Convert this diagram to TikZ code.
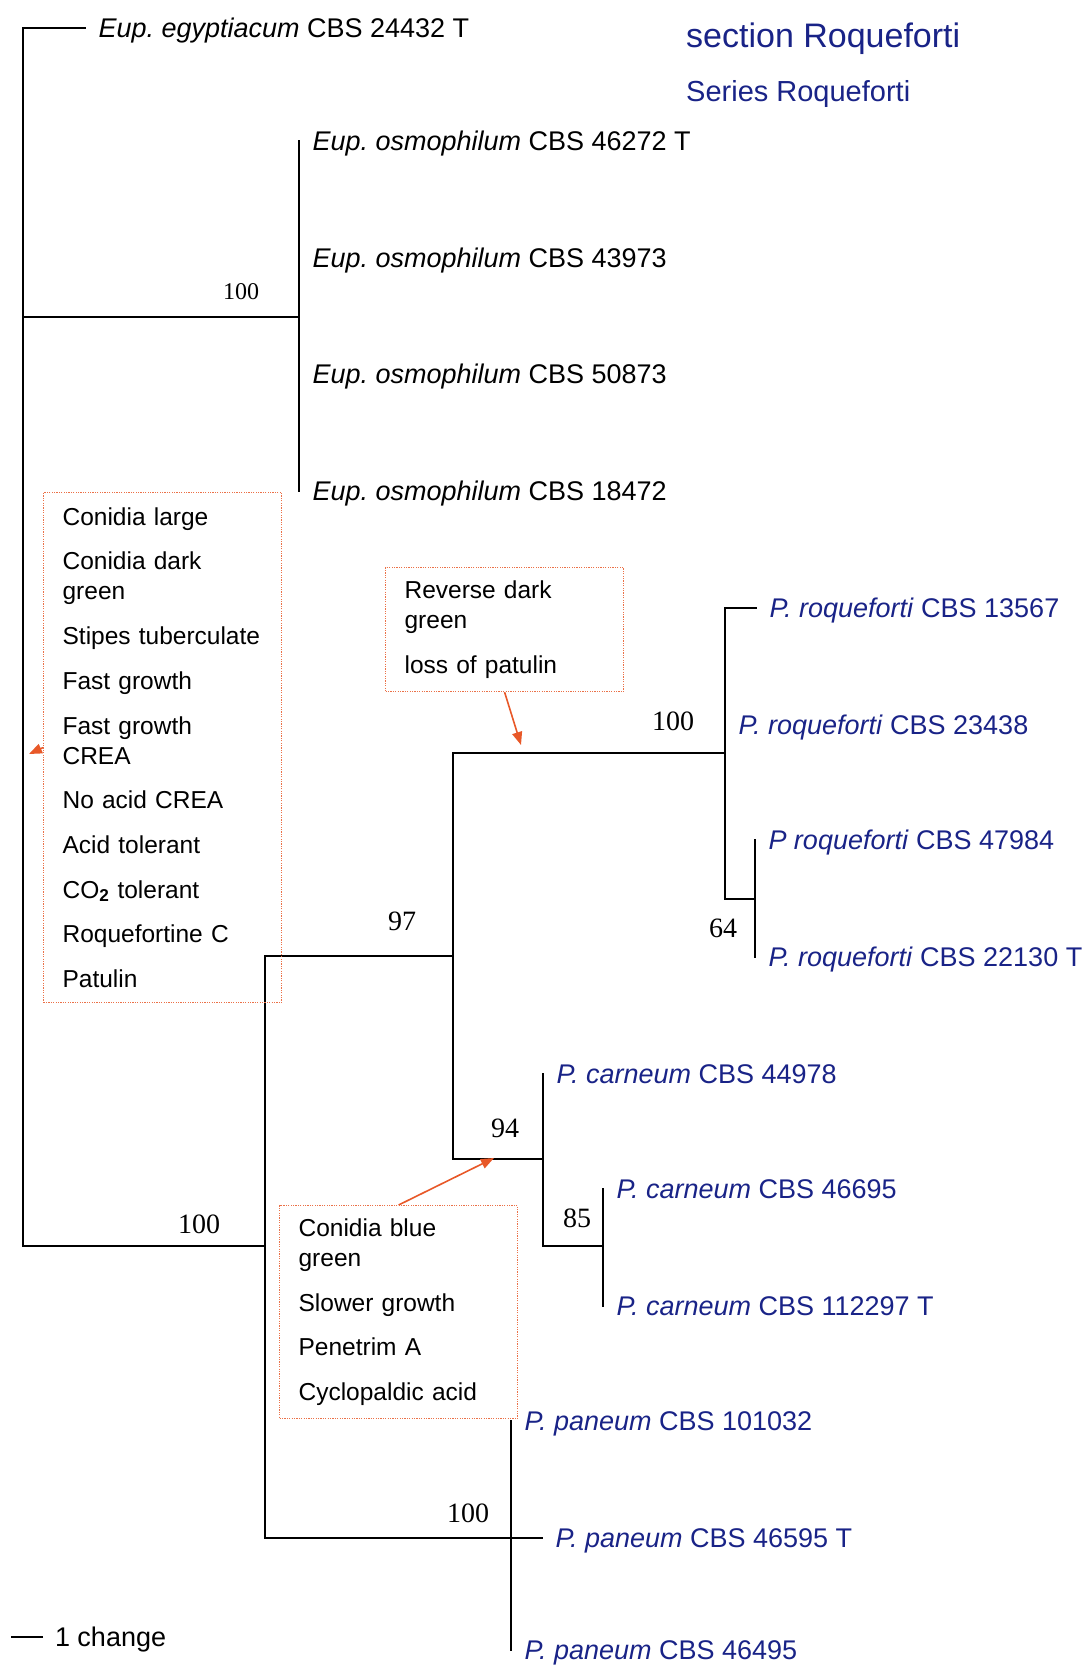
\documentclass[tikz,border=0pt]{standalone}
\usepackage{fontspec}
\setmainfont{Liberation Serif}
\setsansfont{Liberation Sans}
\usetikzlibrary{arrows.meta}

\definecolor{taxblue}{RGB}{25,35,135}
\definecolor{traitred}{RGB}{232,88,40}
\frenchspacing

\begin{document}
\begin{tikzpicture}[x=1pt, y=-1pt,
  branch/.style={line width=2.2pt, line cap=rect},
  taxon/.style={anchor=west, inner sep=0pt, outer xsep=13.5pt,
    text height=19.4pt, text depth=0pt,
    font=\sffamily\fontsize{27}{32}\selectfont},
  ingroup/.style={taxon, text=taxblue},
  heading/.style={anchor=west, inner sep=0pt, text=taxblue},
  support/.style={inner sep=0pt, font=\fontsize{28}{32}\selectfont},
  trait/.style={draw=traitred!85, dash pattern=on 1.2pt off 1.2pt, line width=1.2pt,
    anchor=north west, align=left, text width=200pt, inner xsep=19pt, inner ysep=0pt,
    font=\sffamily\fontsize{24.5}{30}\selectfont},
  traitarrow/.style={draw=traitred, line width=1.6pt, -{Triangle[length=13pt,width=10pt]}}]
\useasboundingbox (0,0) rectangle (1088,1667);

% internal nodes
\coordinate (n0) at (23,1246);
\coordinate (nOsm) at (299,317);
\coordinate (nPen) at (265,1246);
\coordinate (nRC) at (453,956);
\coordinate (nRoq) at (725,753);
\coordinate (nRoq2) at (755,899);
\coordinate (nCar) at (543,1159);
\coordinate (nCar2) at (603,1246);

% taxa
\node[taxon] (egy) at (85,28) {\textit{Eup. egyptiacum} CBS 24432 T};
\node[taxon] (osm1) at (299,141) {\textit{Eup. osmophilum} CBS 46272 T};
\node[taxon] (osm2) at (299,258) {\textit{Eup. osmophilum} CBS 43973};
\node[taxon] (osm3) at (299,374) {\textit{Eup. osmophilum} CBS 50873};
\node[taxon] (osm4) at (299,491) {\textit{Eup. osmophilum} CBS 18472};
\node[ingroup] (roq1) at (756,608) {\textit{P. roqueforti} CBS 13567};
\node[ingroup] (roq2) at (725,725) {\textit{P. roqueforti} CBS 23438};
\node[ingroup] (roq3) at (755,840) {\textit{P roqueforti} CBS 47984};
\node[ingroup] (roq4) at (755,957) {\textit{P. roqueforti} CBS 22130 T};
\node[ingroup] (car1) at (543,1074) {\textit{P. carneum} CBS 44978};
\node[ingroup] (car2) at (603,1189) {\textit{P. carneum} CBS 46695};
\node[ingroup] (car3) at (603,1306) {\textit{P. carneum} CBS 112297 T};
\node[ingroup] (pan1) at (511,1421) {\textit{P. paneum} CBS 101032};
\node[ingroup] (pan2) at (542,1538) {\textit{P. paneum} CBS 46595 T};
\node[ingroup] (pan3) at (511,1650) {\textit{P. paneum} CBS 46495};

% branches
\draw[branch] (egy.west) -| (n0) -- (nPen);
\draw[branch] (n0 |- nOsm) -- (nOsm);
\draw[branch] (osm1.west) -- (osm4.west);
\draw[branch] (nRC) -| (nPen) |- (pan2.west);
\draw[branch] (nRoq) -| (nRC) |- (nCar);
\draw[branch] (roq1.west) -| (nRoq |- nRoq2) -- (nRoq2);
\draw[branch] (roq3.west) -- (roq4.west);
\draw[branch] (car1.west) |- (nCar2);
\draw[branch] (car2.west) -- (car3.west);
\draw[branch] (pan1.west) -- (pan3.west);

% bootstrap values
\node[support, font=\fontsize{24}{28}\selectfont] (bOsm) at (241,292) {100};
\node[support] (bPen) at (199,1224) {100};
\node[support] (bRC) at (402,921) {97};
\node[support] (bRoq) at (673,721) {100};
\node[support] (bRoq2) at (723,928) {64};
\node[support] (bCar) at (505,1128) {94};
\node[support] (bCar2) at (577,1218) {85};
\node[support] (bPan) at (468,1513) {100};

% titles and scale
\node[heading, text height=24.3pt, text depth=0pt, font=\sffamily\fontsize{34}{40}\selectfont]
  (sect) at (686,35) {section Roqueforti};
\node[heading, text height=20.8pt, text depth=0pt, font=\sffamily\fontsize{29}{34}\selectfont]
  (series) at (686,91) {Series Roqueforti};
\node[taxon, outer xsep=12pt] (scale) at (43,1637) {1 change};
\draw[line width=2.2pt] (scale.west) -- ++(-32,0);

% character boxes
\node[trait, minimum height=510pt] (box1) at (43,492)
  {Conidia large\\[14.7pt] Conidia dark\\green\\[14.7pt] Stipes tuberculate\\[14.7pt]
   Fast growth\\[14.7pt] Fast growth\\CREA\\[14.7pt] No acid CREA\\[14.7pt]
   Acid tolerant\\[14.7pt] CO\textsubscript{\textbf{2}} tolerant\\[14.7pt]
   Roquefortine C\\[14.7pt] Patulin};
\node[trait, minimum height=124pt] (box2) at (385,567)
  {Reverse dark\\green\\[14.7pt] loss of patulin};
\node[trait, minimum height=213pt] (box3) at (279,1205)
  {Conidia blue\\green\\[14.7pt] Slower growth\\[14.7pt] Penetrim A\\[14.7pt] Cyclopaldic acid};
\coordinate (t1) at (29,754);
\coordinate (t2) at (521,745);
\coordinate (t3) at (494,1158);
\draw[traitarrow] (box1.west) -- (t1);
\draw[traitarrow] (box2.south) -- (t2);
\draw[traitarrow] (box3.north) -- (t3);
\end{tikzpicture}
\end{document}
